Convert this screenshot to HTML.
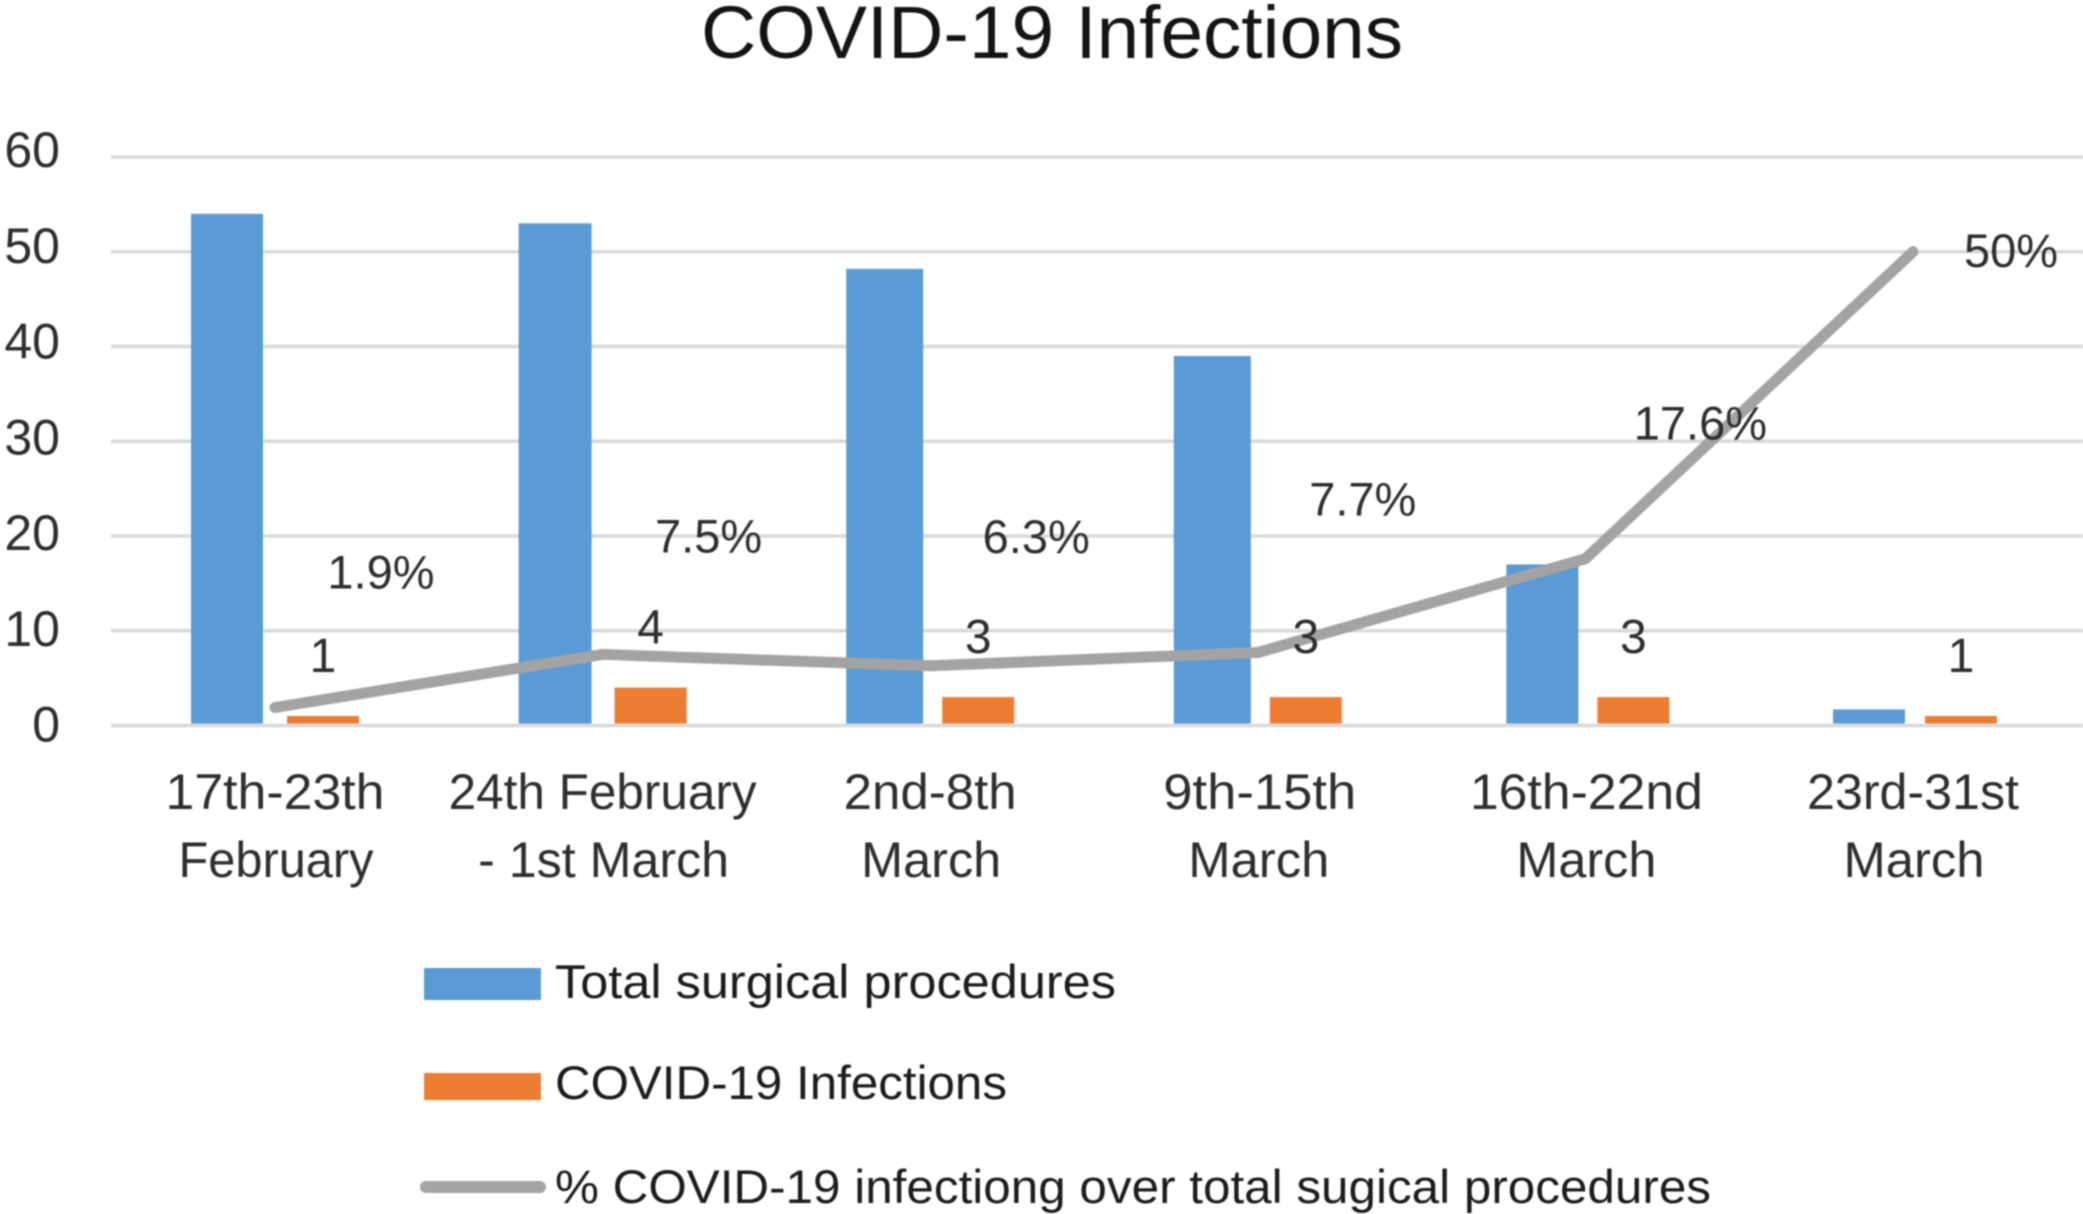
<!DOCTYPE html>
<html lang="en">
<head>
<meta charset="utf-8">
<title>COVID-19 Infections</title>
<style>
  html, body { margin: 0; padding: 0; background: #ffffff; width: 2083px; height: 1214px; overflow: hidden; }
  svg { display: block; filter: blur(0.8px); }
  text { font-family: "Liberation Sans", sans-serif; fill: #2e2e2e; }
</style>
</head>
<body>
<svg id="chart" xmlns="http://www.w3.org/2000/svg" width="2083" height="1214" viewBox="0 0 2083 1214">
  <text x="1052" y="58" text-anchor="middle" font-size="74" textLength="702" lengthAdjust="spacingAndGlyphs" style="fill:#141414">COVID-19 Infections</text>
  <g id="grid"></g>
  <g id="yticks"></g>
  <g id="bars"></g>
  <g id="lineg"></g>
  <g id="labels"></g>
  <g id="xticks"></g>
  <g>
    <rect x="424" y="968" width="117" height="32" fill="#5b9bd5"></rect>
    <text x="555" y="998" font-size="47" textLength="561" lengthAdjust="spacingAndGlyphs" style="fill:#1c1c1c">Total surgical procedures</text>
    <rect x="424" y="1073" width="117" height="27" fill="#ed7d31"></rect>
    <text x="555" y="1099" font-size="47" textLength="452" lengthAdjust="spacingAndGlyphs" style="fill:#1c1c1c">COVID-19 Infections</text>
    <line x1="426" y1="1187" x2="540" y2="1187" stroke="#a5a5a5" stroke-width="12" stroke-linecap="round"></line>
    <text x="555" y="1203" font-size="47" textLength="1156" lengthAdjust="spacingAndGlyphs" style="fill:#1c1c1c">% COVID-19 infectiong over total sugical procedures</text>
  </g>
</svg>
<script>
// Chart data
const categoryLine1 = ["17th-23th", "24th February", "2nd-8th", "9th-15th", "16th-22nd", "23rd-31st"];
const categoryLine2 = ["February", "- 1st March", "March", "March", "March", "March"];
const totalProcedures = [54, 53, 48.2, 39, 17, 1.7];
const covidInfections = [1, 4, 3, 3, 3, 1];
const percentInfected = [1.9, 7.5, 6.3, 7.7, 17.6, 50];
const percentLabels = ["1.9%", "7.5%", "6.3%", "7.7%", "17.6%", "50%"];
const yTickValues = [0, 10, 20, 30, 40, 50, 60];

// Axis functions
const plotLeft = 111, plotRight = 2083, bandWidth = 327.6, firstCenter = 275;
const y0 = 725.5, yPerUnit = 9.475;
function xCenter(i) { return firstCenter + bandWidth * i; }
function yScale(v) { return y0 - v * yPerUnit; }

// Manual layout tweaks seen in the reference
const blueOffset = [-84, -84, -84, -84, -79, -80];
const blueWidth = [72, 73, 77, 77, 72, 72];
const pctNudgeX = [106, 106, 106, 105, 115, 98];
const pctNudgeY = [-119, -102, -113, -137, -119, 15];
const labelShiftX = [0, 0, 0, 2, 1, 0];
const line1Width = [219, 308, 173, 193, 233, 212];
const line2Width = [195, 251, 140, 141, 140, 141];

const NS = "http://www.w3.org/2000/svg";
function make(tag, parentId, attrs, txt) {
  const n = document.createElementNS(NS, tag);
  for (const k in attrs) n.setAttribute(k, attrs[k]);
  if (txt !== undefined) n.textContent = txt;
  document.getElementById(parentId).appendChild(n);
  return n;
}

yTickValues.forEach(function (v) {
  const g = make("line", "grid", { x1: plotLeft, x2: plotRight, y1: yScale(v), y2: yScale(v), stroke: "#d9d9d9", "stroke-width": 3.5 });
  
  
  const t = make("text", "yticks", { x: 60, y: yScale(v) + 16 - v * 0.1, "text-anchor": "end", "font-size": 50 }, String(v));
  
  
});

categoryLine1.forEach(function (label, i) {
  const c = xCenter(i);
  const blue = make("rect", "bars", { x: c + blueOffset[i], y: yScale(totalProcedures[i]), width: blueWidth[i], height: y0 - 2 - yScale(totalProcedures[i]), fill: "#5b9bd5" });
  
  
  const orange = make("rect", "bars", { x: c + 12, y: yScale(covidInfections[i]), width: 72, height: y0 - 2 - yScale(covidInfections[i]), fill: "#ed7d31" });
  
  
  const n = make("text", "labels", { x: c + 48, y: yScale(covidInfections[i]) - 44, "text-anchor": "middle", "font-size": 48 }, String(covidInfections[i]));
  
  
  const p = make("text", "labels", { x: c + pctNudgeX[i], y: yScale(percentInfected[i]) + pctNudgeY[i], "text-anchor": "middle", "font-size": 47 }, percentLabels[i]);
  
  
  const a = make("text", "xticks", { x: c + labelShiftX[i], y: 809, "text-anchor": "middle", "font-size": 50, textLength: line1Width[i], lengthAdjust: "spacingAndGlyphs" }, label);
  
  
  const b = make("text", "xticks", { x: c + 1, y: 877, "text-anchor": "middle", "font-size": 50, textLength: line2Width[i], lengthAdjust: "spacingAndGlyphs" }, categoryLine2[i]);
  
  
});

const pts = percentInfected.map(function (v, i) { return xCenter(i) + "," + yScale(v); }).join(" ");
const line = make("polyline", "lineg", { points: pts, fill: "none", stroke: "#a3a3a3", "stroke-width": 11, "stroke-linejoin": "round", "stroke-linecap": "round" });


</script>
</body>
</html>
